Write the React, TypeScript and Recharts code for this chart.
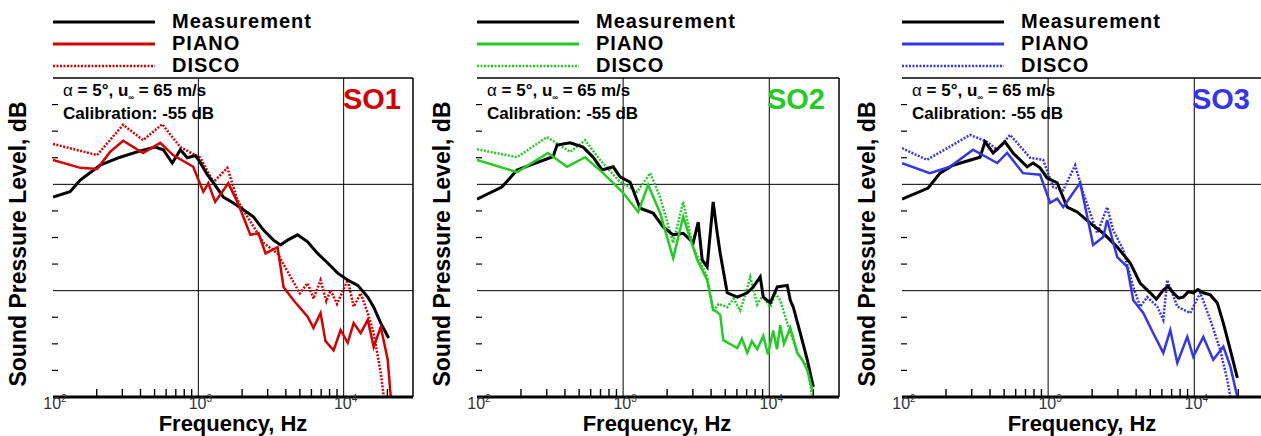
import { LineChart, Line, XAxis, YAxis, ReferenceLine } from 'recharts'

const FONT = '"Liberation Sans", Arial, sans-serif'

// frequency (Hz) and level (dB, arbitrary offset)
// SO1
const so1MeasFreq = [100, 131, 154, 211, 290, 398, 505, 574, 662, 752, 840, 953, 1016, 1153, 1269, 1487, 1743, 2043, 2395, 2808, 3291, 3681, 4111, 4819, 5649, 6622, 7762, 9099, 10660, 12500, 14650, 16100, 18000, 20400]
const so1MeasSpl = [57.6, 58.6, 60.8, 63.6, 65.1, 66.3, 67, 66.5, 64, 66.5, 65, 65.4, 64.4, 61.8, 60.3, 57.6, 56.5, 55.2, 53.9, 51.4, 49.5, 48.6, 49.5, 50.5, 49.2, 47, 45.2, 43.3, 42, 41, 38.8, 36.9, 33.9, 31.1]
const so1PianoFreq = [100, 154, 201, 247, 304, 417, 547, 670, 922, 1082, 1171, 1306, 1606, 1855, 2283, 2594, 2901, 3508, 3857, 4519, 5649, 6200, 6935, 7500, 8531, 9530, 10660, 11720, 13100, 14650, 16100, 18000, 20100, 21100]
const so1PianoSpl = [64.6, 63.1, 62.9, 66.1, 68.2, 65.9, 67.8, 65.5, 63.3, 58.6, 60.2, 56.7, 60.2, 56.7, 50.5, 50.8, 47, 48.2, 40.7, 38.2, 35.1, 33, 35.8, 30.5, 28.8, 32.6, 30.2, 33.9, 32, 34.5, 29.4, 33.2, 27, 20]
const so1DiscoFreq = [100, 201, 304, 417, 564, 752, 1034, 1269, 1585, 1855, 2178, 2808, 3508, 4310, 5000, 5649, 6200, 6935, 7600, 8130, 9000, 10660, 11720, 13100, 14650, 16100, 18000, 18900]
const so1DiscoSpl = [67.6, 65.5, 71.2, 68.3, 71.3, 67, 65, 60.4, 63.1, 57.1, 53.9, 49, 47, 42.6, 39.5, 41.4, 38.5, 42, 38, 40.1, 37.5, 42, 37, 39.5, 35.8, 32, 24.5, 20]

// SO2
const so2MeasFreq = [100, 148, 188, 231, 316, 332, 353, 434, 532, 623, 718, 855, 953, 1117, 1306, 1603, 1879, 2200, 2576, 3015, 3264, 3475, 3758, 4130, 4406, 4617, 5155, 6035, 7068, 7762, 8670, 9099, 10160, 11350, 13280, 13930, 14600, 16300, 18200, 20000]
const so2MeasSpl = [57.2, 59.5, 62.7, 63.6, 65, 65.2, 67.4, 67.8, 67, 65.1, 62.7, 63.3, 61.4, 60.4, 55.5, 54.6, 52, 50.5, 50.8, 49, 52.9, 45.8, 44.5, 56.7, 50.8, 47, 39.6, 38.8, 39.6, 40.7, 42.6, 38.8, 37.7, 40.7, 41, 38.2, 36.9, 32, 27, 21.9]
const so2PianoFreq = [100, 188, 306, 413, 549, 730, 1000, 1268, 1483, 1791, 2200, 2576, 3213, 3758, 4130, 4617, 4842, 6035, 6500, 7068, 7600, 8277, 9099, 9800, 10640, 11290, 11890, 12600, 13930, 15560, 16800, 18200, 19720]
const so2PianoSpl = [64.6, 62.3, 65.9, 63.3, 65.1, 62.1, 58.4, 54.8, 59.9, 54.6, 46.1, 53.9, 45.8, 42, 36.5, 35.5, 30.7, 29.2, 31, 28.3, 30.5, 29, 31.5, 28, 32.5, 29, 33.5, 30, 33, 28.3, 27, 25.1, 21.3]
const so2DiscoFreq = [100, 188, 301, 434, 549, 695, 953, 1247, 1531, 1791, 2200, 2576, 3015, 3758, 4130, 4500, 5155, 5700, 6324, 6900, 7413, 8277, 9000, 10160, 11000, 11890, 13280, 15560, 18200, 19720]
const so2DiscoSpl = [66.6, 65.1, 68.9, 66.1, 68.3, 64.6, 60.4, 58.6, 62.1, 57.6, 49, 56.7, 48.2, 42.6, 36, 37.5, 36.9, 38.5, 36.3, 39.5, 42.6, 37.4, 39, 36.9, 39.5, 38.2, 33.9, 28.3, 25.7, 20]

// SO3
const so3MeasFreq = [100, 151, 182, 223, 342, 370, 420, 507, 575, 718, 789, 881, 984, 1153, 1349, 1581, 1940, 2382, 2972, 3648, 4266, 5000, 5500, 6138, 6600, 7178, 7800, 8410, 9100, 9840, 10600, 11530, 12880, 14380, 15810, 17660, 19720]
const so3MeasSpl = [57.2, 59.3, 62.1, 63.6, 65.1, 68, 65.9, 68, 65.9, 63.3, 64, 63.1, 61.2, 60.3, 55.7, 54.8, 52.7, 50.8, 48.2, 45.2, 41.4, 39.6, 38.4, 40.1, 40.8, 39.6, 38.6, 38.8, 39.8, 39.6, 40.2, 39.6, 39.2, 37.7, 33.9, 28.8, 23.6]
const so3PianoFreq = [100, 155, 213, 306, 448, 524, 674, 881, 1032, 1153, 1268, 1656, 2033, 2382, 2535, 2972, 3475, 3823, 4477, 5241, 6138, 6855, 7655, 8954, 9840, 11530, 13490, 15810, 17660, 19720]
const so3PianoSpl = [64, 62.1, 63.3, 66.5, 64, 65.9, 62.1, 61.8, 56.5, 57.3, 55.7, 60.3, 48.6, 50.1, 53.3, 46.3, 44.5, 38.2, 35.8, 32, 28.3, 32.6, 26.4, 31.3, 27.6, 31.3, 27, 29.5, 25.7, 20]
const so3DiscoFreq = [100, 148, 292, 382, 448, 549, 753, 924, 1082, 1268, 1531, 1738, 2167, 2535, 2786, 3264, 3823, 4266, 4764, 5585, 6138, 6531, 7655, 9397, 10990, 12880, 15070, 16830, 17660]
const so3DiscoSpl = [66.8, 64.6, 69.3, 68, 66.5, 69.3, 65, 64.6, 59.5, 58.9, 63.6, 58.4, 50.8, 55.7, 51.4, 47.7, 40.7, 37, 38.8, 37, 34.5, 42, 37, 35.8, 39.6, 34.5, 28.8, 23.2, 20]

const freqMajor = [100, 1000, 10000]
const freqMinor = [200, 300, 400, 500, 600, 700, 800, 900, 2000, 3000, 4000, 5000, 6000, 7000, 8000, 9000, 20000]
const freqGrid = [1000, 10000]
const splMinor = [25, 30, 35, 45, 50, 55, 65, 70, 75]
const splGrid = [40, 60]

const zip = (f: number[], v: number[]) => f.map((x, i) => ({ f: x, v: v[i] }))

const panels = [
  { name: 'SO1', color: '#d40000', left: 53, width: 360, meas: zip(so1MeasFreq, so1MeasSpl), piano: zip(so1PianoFreq, so1PianoSpl), disco: zip(so1DiscoFreq, so1DiscoSpl) },
  { name: 'SO2', color: '#22cc22', left: 477, width: 362, meas: zip(so2MeasFreq, so2MeasSpl), piano: zip(so2PianoFreq, so2PianoSpl), disco: zip(so2DiscoFreq, so2DiscoSpl) },
  { name: 'SO3', color: '#3535ec', left: 902, width: 362, meas: zip(so3MeasFreq, so3MeasSpl), piano: zip(so3PianoFreq, so3PianoSpl), disco: zip(so3DiscoFreq, so3DiscoSpl) },
]

const DecadeLabel = ({ x, y, payload }: any) => (
  <text x={x + 2} y={y + 12} textAnchor="middle" fill="#333" fontSize="16px" fontFamily={FONT}>
    10<tspan dy={-7} fontSize="10px">{Math.round(Math.log10(payload.value))}</tspan>
  </text>
)

// short inward tick on the left edge, placed by the reference line's own scale position
const YMinorTick = ({ x1, x2, y1 }: any) => {
  const xl = Math.min(x1, x2)
  return <line x1={xl - 1} x2={xl + 5} y1={y1} y2={y1} stroke="#000" strokeWidth={1.2} />
}

const legendRows = [
  { label: 'Measurement', key: 'meas', y: 22 },
  { label: 'PIANO', key: 'piano', y: 44 },
  { label: 'DISCO', key: 'disco', y: 66 },
]

function Panel({ p }: { p: (typeof panels)[number] }) {
  const text = { position: 'absolute' as const, fontFamily: FONT, fontWeight: 700, whiteSpace: 'nowrap' as const, color: '#000' }
  return (
    <>
      {legendRows.map((r) => (
        <div key={r.key}>
          <svg style={{ position: 'absolute', left: p.left, top: r.y - 3 }} width={102} height={6}>
            <line
              x1={0} x2={102} y1={3} y2={3}
              stroke={r.key === 'meas' ? '#000' : p.color}
              strokeWidth={r.key === 'disco' ? 2.5 : 3}
              strokeDasharray={r.key === 'disco' ? '2 1.5' : undefined}
            />
          </svg>
          <div style={{ ...text, left: p.left + 119, top: r.y - 12, fontSize: 20, lineHeight: '22px', letterSpacing: 1 }}>{r.label}</div>
        </div>
      ))}

      <div style={{ position: 'absolute', left: p.left - 10, top: 68 }}>
        <LineChart width={p.width + 20} height={369} margin={{ top: 10, right: 10, bottom: 10, left: 10 }}>
          <XAxis
            type="number" dataKey="f" scale="log" domain={[100, 30000]} allowDataOverflow
            ticks={freqMajor} interval={0} height={30}
            tickSize={0} tickMargin={0} tickLine={false}
            axisLine={{ stroke: '#000', strokeWidth: 3 }}
            tick={DecadeLabel}
          />
          <YAxis
            type="number" domain={[20, 80]} allowDataOverflow
            width={0} tickLine={false} tick={false}
            axisLine={{ stroke: '#000', strokeWidth: 1.5 }}
          />
          {/* frame, grid and minor ticks */}
          <ReferenceLine y={80} stroke="#000" strokeWidth={1.5} />
          <ReferenceLine x={30000} stroke="#000" strokeWidth={1.5} />
          {freqGrid.map((g) => <ReferenceLine key={'x' + g} x={g} stroke="#000" strokeWidth={1} />)}
          {splGrid.map((g) => <ReferenceLine key={'y' + g} y={g} stroke="#000" strokeWidth={1} />)}
          {freqMinor.map((f) => (
            <ReferenceLine key={'fm' + f} segment={[{ x: f, y: 20 }, { x: f, y: 21.5 }]} stroke="#000" strokeWidth={1.4} />
          ))}
          {splMinor.map((v) => <ReferenceLine key={'sm' + v} y={v} shape={YMinorTick} />)}
          <Line data={p.disco} dataKey="v" type="linear" stroke={p.color} strokeWidth={2.5} strokeDasharray="2 1.5" dot={false} isAnimationActive={false} />
          <Line data={p.meas} dataKey="v" type="linear" stroke="#000" strokeWidth={3} dot={false} isAnimationActive={false} />
          <Line data={p.piano} dataKey="v" type="linear" stroke={p.color} strokeWidth={2.5} dot={false} isAnimationActive={false} />
        </LineChart>
      </div>

      <div style={{ ...text, left: p.left + 10, top: 83, fontSize: 17, lineHeight: '16px' }}>
        <span style={{ fontWeight: 400 }}>α</span> = 5°, u<sub style={{ fontSize: 8, verticalAlign: 'sub' }}>∞</sub> = 65 m/s
        <br />
        Calibration: -55 dB
      </div>
      <div style={{ ...text, left: p.left + 288, top: 83, width: 60, textAlign: 'right', fontSize: 29, lineHeight: '32px', color: p.color }}>{p.name}</div>

      <div style={{ ...text, left: p.left - 35, top: 244, fontSize: 23, lineHeight: '24px', transform: 'translate(-50%, -50%) rotate(-90deg)' }}>
        Sound Pressure Level, dB
      </div>
      <div style={{ ...text, left: p.left + 180, top: 424, fontSize: 22, lineHeight: '18px', transform: 'translate(-50%, -50%)' }}>
        Frequency, Hz
      </div>
    </>
  )
}

export default function App() {
  return (
    <div style={{ position: 'absolute', left: 0, top: 0, width: 1261, height: 436, overflow: 'hidden', background: '#fff' }}>
      {panels.map((p) => <Panel key={p.name} p={p} />)}
    </div>
  )
}
